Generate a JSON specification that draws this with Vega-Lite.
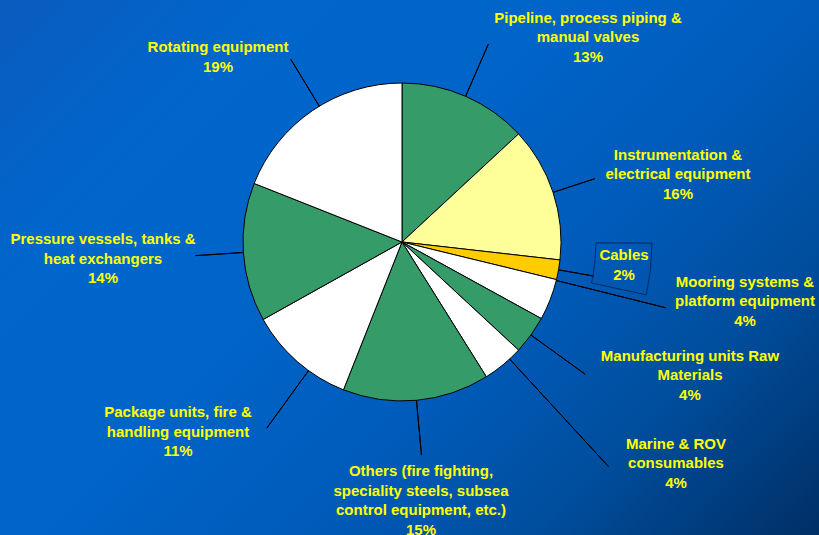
{
  "$schema": "https://vega.github.io/schema/vega-lite/v6.json",
  "autosize": {"type": "none"},
  "width": 834,
  "height": 586,
  "padding": {"left": -15, "top": -51, "right": 0, "bottom": 0},
  "background": "#005fc4",
  "config": {
    "view": {"stroke": null},
    "text": {
      "font": "Liberation Sans",
      "fontSize": 15,
      "fontWeight": "bold",
      "fill": "#ffff00",
      "lineHeight": 19.5,
      "lineBreak": "\n",
      "align": "center",
      "baseline": "middle"
    }
  },
  "data": {
    "values": [
      {"category": "Pipeline", "value": 13.1, "label": "Pipeline, process piping &\nmanual valves\n13%"},
      {"category": "Instrumentation", "value": 13.7, "label": "Instrumentation &\nelectrical equipment\n16%"},
      {"category": "Cables", "value": 2.0, "label": "Cables\n2%"},
      {"category": "Mooring", "value": 4.2, "label": "Mooring systems &\nplatform equipment\n4%"},
      {"category": "Manufacturing", "value": 3.9, "label": "Manufacturing units Raw\nMaterials\n4%"},
      {"category": "Marine", "value": 4.2, "label": "Marine & ROV\nconsumables\n4%"},
      {"category": "Others", "value": 14.9, "label": "Others (fire fighting,\nspeciality steels, subsea\ncontrol equipment, etc.)\n15%"},
      {"category": "Package", "value": 10.9, "label": "Package units, fire &\nhandling equipment\n11%"},
      {"category": "Pressure", "value": 14.1, "label": "Pressure vessels, tanks &\nheat exchangers\n14%"},
      {"category": "Rotating", "value": 19.0, "label": "Rotating equipment\n19%"}
    ]
  },
  "transform": [
    {"stack": "value", "groupby": [], "as": ["v0", "v1"]}
  ],
  "layer": [
    {
      "data": {"values": [{"backdrop": "slide"}]},
      "mark": {
        "type": "arc", "theta": 0, "theta2": 6.2832, "radius": 520, "strokeWidth": 0,
        "fill": {
          "gradient": "linear",
          "x1": 0, "y1": 0, "x2": 1, "y2": 1,
          "stops": [
            {"offset": 0.19, "color": "#0b5bbe"},
            {"offset": 0.33, "color": "#0066cc"},
            {"offset": 0.46, "color": "#0064c8"},
            {"offset": 0.58, "color": "#005cbc"},
            {"offset": 0.7, "color": "#004e9e"},
            {"offset": 0.84, "color": "#002f66"}
          ]
        }
      },
      "encoding": {}
    },
    {
      "mark": {"type": "arc", "stroke": "#000000", "strokeWidth": 1},
      "encoding": {
        "theta": {"field": "v0", "type": "quantitative", "stack": null, "scale": {"domain": [0, 100]}},
        "theta2": {"field": "v1"},
        "radius": {"value": 159},
        "color": {
          "field": "category",
          "type": "nominal",
          "legend": null,
          "scale": {
            "domain": ["Pipeline", "Instrumentation", "Cables", "Mooring", "Manufacturing", "Marine", "Others", "Package", "Pressure", "Rotating"],
            "range": ["#359b68", "#ffff99", "#ffcc00", "#ffffff", "#359b68", "#ffffff", "#359b68", "#ffffff", "#359b68", "#ffffff"]
          }
        }
      }
    },
    {
      "transform": [{"filter": {"field": "category", "equal": "Pipeline"}}],
      "mark": {"type": "arc", "padAngle": 3.1416, "fillOpacity": 0, "stroke": "#000000", "strokeWidth": 1},
      "encoding": {"theta": {"field": "v0", "type": "quantitative", "stack": null}, "theta2": {"field": "v1"}, "radius": {"value": 216}, "radius2": {"value": 159}}
    },
    {
      "transform": [{"filter": {"field": "category", "equal": "Instrumentation"}}],
      "mark": {"type": "arc", "padAngle": 3.1416, "fillOpacity": 0, "stroke": "#000000", "strokeWidth": 1},
      "encoding": {"theta": {"field": "v0", "type": "quantitative", "stack": null}, "theta2": {"field": "v1"}, "radius": {"value": 203}, "radius2": {"value": 159}}
    },
    {
      "transform": [{"filter": {"field": "category", "equal": "Cables"}}],
      "mark": {"type": "arc", "padAngle": 3.1416, "fillOpacity": 0, "stroke": "#000000", "strokeWidth": 1},
      "encoding": {"theta": {"field": "v0", "type": "quantitative", "stack": null}, "theta2": {"field": "v1"}, "radius": {"value": 195}, "radius2": {"value": 159}}
    },
    {
      "transform": [{"filter": {"field": "category", "equal": "Mooring"}}],
      "mark": {"type": "arc", "padAngle": 3.1416, "fillOpacity": 0, "stroke": "#000000", "strokeWidth": 1, "thetaOffset": -0.1264, "theta2Offset": -0.1264},
      "encoding": {"theta": {"field": "v0", "type": "quantitative", "stack": null}, "theta2": {"field": "v1"}, "radius": {"value": 272}, "radius2": {"value": 159}}
    },
    {
      "transform": [{"filter": {"field": "category", "equal": "Manufacturing"}}],
      "mark": {"type": "arc", "padAngle": 3.1416, "fillOpacity": 0, "stroke": "#000000", "strokeWidth": 1},
      "encoding": {"theta": {"field": "v0", "type": "quantitative", "stack": null}, "theta2": {"field": "v1"}, "radius": {"value": 226}, "radius2": {"value": 159}}
    },
    {
      "transform": [{"filter": {"field": "category", "equal": "Marine"}}],
      "mark": {"type": "arc", "padAngle": 3.1416, "fillOpacity": 0, "stroke": "#000000", "strokeWidth": 1, "thetaOffset": -0.0524, "theta2Offset": -0.0524},
      "encoding": {"theta": {"field": "v0", "type": "quantitative", "stack": null}, "theta2": {"field": "v1"}, "radius": {"value": 305}, "radius2": {"value": 159}}
    },
    {
      "transform": [{"filter": {"field": "category", "equal": "Others"}}],
      "mark": {"type": "arc", "padAngle": 3.1416, "fillOpacity": 0, "stroke": "#000000", "strokeWidth": 1},
      "encoding": {"theta": {"field": "v0", "type": "quantitative", "stack": null}, "theta2": {"field": "v1"}, "radius": {"value": 214}, "radius2": {"value": 159}}
    },
    {
      "transform": [{"filter": {"field": "category", "equal": "Package"}}],
      "mark": {"type": "arc", "padAngle": 3.1416, "fillOpacity": 0, "stroke": "#000000", "strokeWidth": 1, "thetaOffset": -0.0911, "theta2Offset": -0.0911},
      "encoding": {"theta": {"field": "v0", "type": "quantitative", "stack": null}, "theta2": {"field": "v1"}, "radius": {"value": 230}, "radius2": {"value": 159}}
    },
    {
      "transform": [{"filter": {"field": "category", "equal": "Pressure"}}],
      "mark": {"type": "arc", "padAngle": 3.1416, "fillOpacity": 0, "stroke": "#000000", "strokeWidth": 1},
      "encoding": {"theta": {"field": "v0", "type": "quantitative", "stack": null}, "theta2": {"field": "v1"}, "radius": {"value": 207}, "radius2": {"value": 159}}
    },
    {
      "transform": [{"filter": {"field": "category", "equal": "Rotating"}}],
      "mark": {"type": "arc", "padAngle": 3.1416, "fillOpacity": 0, "stroke": "#000000", "strokeWidth": 1, "thetaOffset": 0.05, "theta2Offset": 0.05},
      "encoding": {"theta": {"field": "v0", "type": "quantitative", "stack": null}, "theta2": {"field": "v1"}, "radius": {"value": 214}, "radius2": {"value": 159}}
    },
    {
      "transform": [{"filter": {"field": "category", "equal": "Cables"}}],
      "mark": {"type": "arc", "fillOpacity": 0, "stroke": "#002a66", "strokeWidth": 1, "thetaOffset": -0.1086, "theta2Offset": -0.0258},
      "encoding": {"theta": {"field": "v0", "type": "quantitative", "stack": null}, "theta2": {"field": "v1"}, "radius": {"value": 250}, "radius2": {"value": 194}}
    },
    {
      "transform": [{"filter": {"field": "category", "equal": "Pipeline"}}],
      "mark": {"type": "text", "thetaOffset": 0.6929},
      "encoding": {"theta": {"field": "v0", "type": "quantitative", "stack": null}, "radius": {"value": 291.2}, "text": {"field": "label"}}
    },
    {
      "transform": [{"filter": {"field": "category", "equal": "Instrumentation"}}],
      "mark": {"type": "text", "thetaOffset": 0.4423},
      "encoding": {"theta": {"field": "v0", "type": "quantitative", "stack": null}, "radius": {"value": 289.4}, "text": {"field": "label"}}
    },
    {
      "transform": [{"filter": {"field": "category", "equal": "Cables"}}],
      "mark": {"type": "text", "thetaOffset": -0.0546},
      "encoding": {"theta": {"field": "v0", "type": "quantitative", "stack": null}, "radius": {"value": 222.4}, "text": {"field": "label"}}
    },
    {
      "transform": [{"filter": {"field": "category", "equal": "Mooring"}}],
      "mark": {"type": "text", "thetaOffset": -0.1227},
      "encoding": {"theta": {"field": "v0", "type": "quantitative", "stack": null}, "radius": {"value": 345.3}, "text": {"field": "label"}}
    },
    {
      "transform": [{"filter": {"field": "category", "equal": "Manufacturing"}}],
      "mark": {"type": "text", "thetaOffset": -0.1258},
      "encoding": {"theta": {"field": "v0", "type": "quantitative", "stack": null}, "radius": {"value": 309.7}, "text": {"field": "label"}}
    },
    {
      "transform": [{"filter": {"field": "category", "equal": "Marine"}}],
      "mark": {"type": "text", "thetaOffset": -0.1124},
      "encoding": {"theta": {"field": "v0", "type": "quantitative", "stack": null}, "radius": {"value": 340.4}, "text": {"field": "label"}}
    },
    {
      "transform": [{"filter": {"field": "category", "equal": "Others"}}],
      "mark": {"type": "text", "thetaOffset": 0.4765},
      "encoding": {"theta": {"field": "v0", "type": "quantitative", "stack": null}, "radius": {"value": 229.8}, "text": {"field": "label"}}
    },
    {
      "transform": [{"filter": {"field": "category", "equal": "Package"}}],
      "mark": {"type": "text", "thetaOffset": 0.5445},
      "encoding": {"theta": {"field": "v0", "type": "quantitative", "stack": null}, "radius": {"value": 281.2}, "text": {"field": "label"}}
    },
    {
      "transform": [{"filter": {"field": "category", "equal": "Pressure"}}],
      "mark": {"type": "text", "thetaOffset": 0.5189},
      "encoding": {"theta": {"field": "v0", "type": "quantitative", "stack": null}, "radius": {"value": 299.0}, "text": {"field": "label"}}
    },
    {
      "transform": [{"filter": {"field": "category", "equal": "Rotating"}}],
      "mark": {"type": "text", "thetaOffset": 0.4374},
      "encoding": {"theta": {"field": "v0", "type": "quantitative", "stack": null}, "radius": {"value": 268.1}, "text": {"field": "label"}}
    }
  ]
}
